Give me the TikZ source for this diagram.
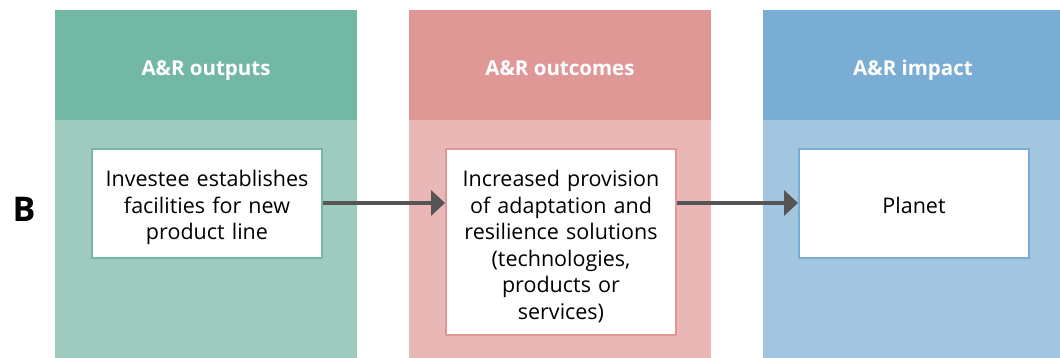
\documentclass[tikz,border=0pt]{standalone}
\usepackage{fontspec}
\setmainfont{Open Sans}
\usetikzlibrary{arrows.meta}
\definecolor{ghead}{HTML}{72B8A5}
\definecolor{gbody}{HTML}{9ECBBE}
\definecolor{rhead}{HTML}{DF9896}
\definecolor{rbody}{HTML}{E9B7B6}
\definecolor{bhead}{HTML}{79ADD3}
\definecolor{bbody}{HTML}{A2C5E0}
\definecolor{arr}{HTML}{555555}
\tikzset{
  x=1pt, y=-1pt,
  colhead/.style={inner sep=0pt, minimum width=302pt, minimum height=110pt, anchor=north west},
  coltitle/.style={inner sep=0pt, anchor=base, text=white, font=\fontsize{20.5}{24}\selectfont\bfseries},
  colbody/.style={inner sep=0pt, minimum width=302pt, minimum height=238pt, anchor=north west},
  itembox/.style={draw, line width=2pt, fill=white, inner sep=0pt, minimum width=230pt, anchor=north west,
    align=center, text width=226pt, font=\fontsize{21.5}{26.5}\selectfont, text=black, text height=25pt},
  flow/.style={draw=arr, line width=4pt, -{Triangle[length=14pt,width=25pt]}}
}
\begin{document}
\begin{tikzpicture}
\useasboundingbox (0,0) rectangle (1060,358);
% columns
\node[colhead, fill=ghead] (h1) at (55,10) {};
\node[colbody, fill=gbody] (c1) at (55,120) {};
\node[colhead, fill=rhead] (h2) at (409,10) {};
\node[colbody, fill=rbody] (c2) at (409,120) {};
\node[colhead, fill=bhead, minimum width=297pt] (h3) at (763,10) {};
\node[colbody, fill=bbody, minimum width=297pt] (c3) at (763,120) {};
\node[coltitle] (t1) at (206,76) {A\&R outputs};
\node[coltitle] (t2) at (560,76) {A\&R outcomes};
\node[coltitle] (t3) at (913,76) {A\&R impact};
% label
\node[font=\fontsize{34}{34}\selectfont\bfseries, anchor=center, inner sep=0pt] (lb) at (24,209) {B};
% boxes
\node[itembox, draw=ghead, minimum height=109pt] (b1) at (91,148)
  {Investee establishes\\facilities for new\\product line};
\node[itembox, draw=rhead, minimum height=186pt] (b2) at (445,148)
  {Increased provision\\of adaptation and\\resilience solutions\\(technologies,\\products or\\services)};
\node[itembox, draw=bhead, minimum height=109pt, text height=20pt] (b3) at (798,148) {Planet};
% arrows
\draw[flow] (b1.east |- 0,203) -- (b2.west |- 0,203);
\draw[flow] (b2.east |- 0,203) -- (b3.west |- 0,203);
\end{tikzpicture}
\end{document}
